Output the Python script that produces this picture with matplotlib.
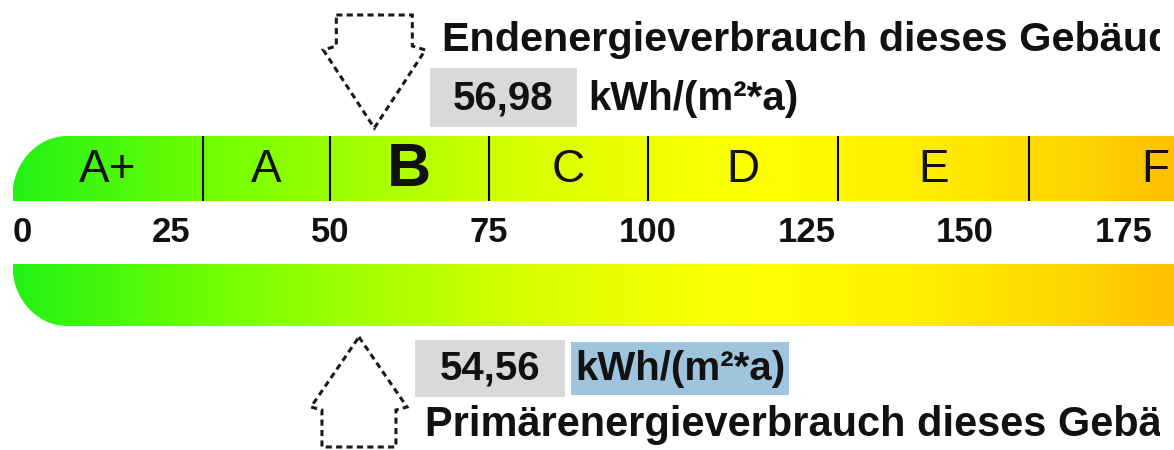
import matplotlib
matplotlib.use("Agg")
import matplotlib.pyplot as plt
import numpy as np
from matplotlib.colors import LinearSegmentedColormap
from matplotlib.patches import Polygon, Rectangle
from matplotlib.transforms import Bbox, TransformedBbox

plt.rcParams['font.family'] = ['Liberation Sans', 'DejaVu Sans']

# energy classes (kWh/(m²*a))
class_labels = ["A+", "A", "B", "C", "D", "E", "F", "G", "H"]
class_edges = [0, 30, 50, 75, 100, 130, 160, 200, 250, 300]
tick_values = [0, 25, 50, 75, 100, 125, 150, 175]

end_value = 56.98
prim_value = 54.56
end_text = "56,98"
prim_text = "54,56"
unit_text = "kWh/(m²*a)"
end_title = "Endenergieverbrauch dieses Gebäudes"
prim_title = "Primärenergieverbrauch dieses Gebäudes"

grad_values = [0, 34, 58, 81, 105, 118, 141, 165, 183]
grad_colors = ["#22f214", "#77ff00", "#aaff00", "#d8ff00", "#f5ff00",
               "#ffff00", "#fff000", "#ffd800", "#ffc000"]

# pixel scale of the scale bar
PX = 6.35          # pixels per kWh
X0 = -12.5 / PX    # left edge of figure in kWh
W, H = 1174, 450
X1 = X0 + W / PX


def px(x):
    return X0 + x / PX


fig = plt.figure(figsize=(W / 100, H / 100), dpi=100)
ax = fig.add_axes([0, 0, 1, 1])
ax.set_xlim(X0, X1)
ax.set_ylim(H, 0)
ax.axis('off')

cmap = LinearSegmentedColormap.from_list(
    "energy", [(v / grad_values[-1], c) for v, c in zip(grad_values, grad_colors)])
grad = np.linspace(0, grad_values[-1], 800).reshape(1, -1)

rx, ry = 55 / PX, 60
t = np.linspace(0, np.pi / 2, 40)


def bar(top, bottom, round_top):
    if round_top:
        arc = [(rx - rx * np.sin(a), top + ry - ry * np.cos(a)) for a in t]
        pts = [(X1 + 5, top)] + arc + [(0, bottom), (X1 + 5, bottom)]
    else:
        arc = [(rx - rx * np.sin(a), bottom - ry + ry * np.cos(a)) for a in t]
        pts = [(X1 + 5, bottom)] + arc + [(0, top), (X1 + 5, top)]
    patch = Polygon(pts, closed=True, facecolor='none', edgecolor='none')
    ax.add_patch(patch)
    img = ax.imshow(grad, extent=(0, grad_values[-1], bottom, top),
                    aspect='auto', cmap=cmap, vmin=0, vmax=grad_values[-1],
                    interpolation='bilinear')
    img.set_clip_path(patch)


bar(136, 201, True)
bar(264, 326, False)
ax.set_xlim(X0, X1)
ax.set_ylim(H, 0)

# class dividers and letters (only the classes that start inside the view)
ax.vlines([e for e in class_edges[1:] if e < X1], 136, 201, color='black', lw=1.5)
for i, lab in enumerate(class_labels):
    if class_edges[i] >= X1:
        continue
    mid = (class_edges[i] + class_edges[i + 1]) / 2
    current = class_edges[i] <= end_value < class_edges[i + 1]
    ax.text(mid, 170, lab, ha='center', va='center',
            fontsize=44 if current else 33,
            fontweight='bold' if current else 'normal', color='#111111')

for v in tick_values:
    ax.text(v, 233, str(v), ha='left' if v == 0 else 'center', va='center',
            fontsize=25, fontweight='bold', color='#111111')

# arrows pointing to the values
down_arrow = [(-38, 15), (38, 15), (38, 46), (51, 50), (0, 128), (-51, 50), (-38, 46)]
up_arrow = [(0, 337), (48, 407), (37, 410), (37, 447), (-37, 447), (-37, 410), (-48, 407)]
for val, shape in [(end_value, down_arrow), (prim_value, up_arrow)]:
    pts = [(val + dx / PX, y) for dx, y in shape]
    ax.add_patch(Polygon(pts, closed=True, fill=False, edgecolor='#1a1a1a',
                         lw=2.2, linestyle=(0, (2, 1.4))))

# the text block of the original is cut at about x = 1160 px
text_clip = TransformedBbox(Bbox([[X0, 0], [px(1160), H]]), ax.transData)

# top labels
t1 = ax.text(px(442), 51, end_title, fontsize=29.8, fontweight='bold',
             va='baseline', ha='left', color='#111111')
t1.set_clip_box(text_clip)
t1.set_clip_on(True)
ax.add_patch(Rectangle((px(430), 68), 147 / PX, 59, color='#d9d9d9', lw=0))
ax.text(px(503), 110, end_text, fontsize=29, fontweight='bold',
        va='baseline', ha='center', color='#111111')
ax.text(px(588), 110, unit_text, fontsize=29, fontweight='bold',
        va='baseline', ha='left', color='#111111')

# bottom labels
ax.add_patch(Rectangle((px(415), 340), 150 / PX, 57, color='#d9d9d9', lw=0))
ax.add_patch(Rectangle((px(571), 342), 218 / PX, 53, color='#9fc4de', lw=0))
ax.text(px(490), 380, prim_text, fontsize=29, fontweight='bold',
        va='baseline', ha='center', color='#111111')
ax.text(px(575), 380, unit_text, fontsize=29, fontweight='bold',
        va='baseline', ha='left', color='#111111')
t2 = ax.text(px(425), 436, prim_title, fontsize=29.9, fontweight='bold',
             va='baseline', ha='left', color='#111111')
t2.set_clip_box(text_clip)
t2.set_clip_on(True)

fig.savefig("out.png", dpi=100)
